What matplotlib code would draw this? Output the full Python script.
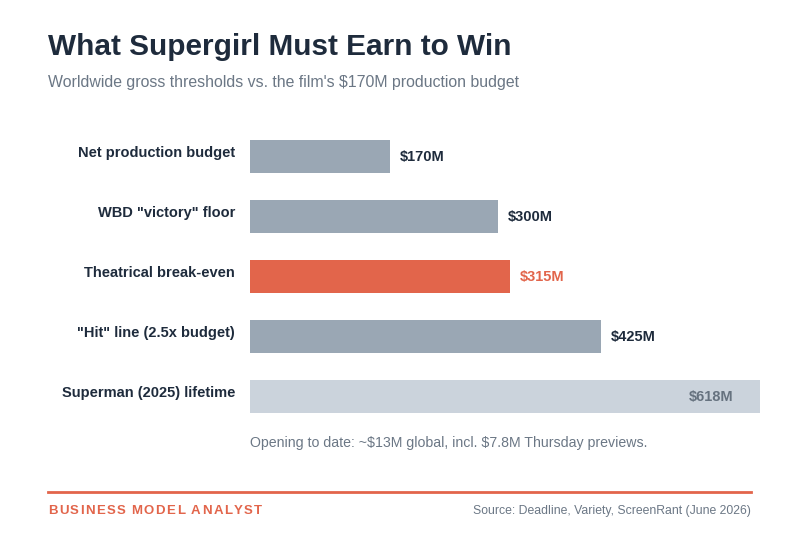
import matplotlib
matplotlib.use("Agg")
from matplotlib import pyplot as plt

plt.rcParams['font.family'] = ['Liberation Sans', 'DejaVu Sans']
plt.rcParams['text.parse_math'] = False

categories = ["Net production budget", 'WBD "victory" floor', "Theatrical break-even",
              '"Hit" line (2.5x budget)', "Superman (2025) lifetime"]
values = [170, 300, 315, 425, 618]
value_labels = ["$170M", "$300M", "$315M", "$425M", "$618M"]

navy = "#1e2b3c"
grey_bar = "#9aa7b4"
orange = "#e2654b"
light_bar = "#cbd3dc"
muted = "#6b7785"

bar_colors = [grey_bar, grey_bar, orange, grey_bar, light_bar]
label_colors = [navy, navy, orange, navy, "#66727f"]

W, H = 800, 540
fig = plt.figure(figsize=(W / 100, H / 100), dpi=100)
fig.patch.set_facecolor("white")


def fx(px):
    return px / W


def fy(py):
    return 1 - py / H


ax = fig.add_axes([fx(250), fy(426.7), fx(510), 300 / H])
ypos = list(range(len(categories)))
ax.barh(ypos, values, height=0.555, color=bar_colors)
ax.set_xlim(0, 618)
ax.set_ylim(4.5, -0.5)
ax.axis("off")

for i, (v, lab) in enumerate(zip(values, value_labels)):
    if i == len(values) - 1:
        ax.text(v - 32, i, lab, ha="right", va="center", fontsize=10.5,
                fontweight="bold", color=label_colors[i])
    else:
        ax.text(v + 12, i, lab, ha="left", va="center", fontsize=10.5,
                fontweight="bold", color=label_colors[i])
    ax.text(-18, i - 0.07, categories[i], ha="right", va="center", fontsize=10.5,
            fontweight="bold", color=navy)

fig.text(fx(48), fy(47), "What Supergirl Must Earn to Win", ha="left", va="center",
         fontsize=21.4, fontweight="bold", color=navy)
fig.text(fx(48), fy(82), "Worldwide gross thresholds vs. the film's $170M production budget",
         ha="left", va="center", fontsize=11.4, color=muted)

fig.text(fx(250), fy(443), "Opening to date: ~$13M global, incl. $7.8M Thursday previews.",
         ha="left", va="center", fontsize=10.2, color=muted)

fig.add_artist(plt.Line2D([fx(48), fx(751)], [fy(491.5), fy(491.5)], color=orange,
                          linewidth=2, transform=fig.transFigure))

# letter-spaced brand line
renderer = fig.canvas.get_renderer()
brand = "BUSINESS MODEL ANALYST"
x = 48
for ch in brand:
    t = fig.text(fx(x), fy(511), ch, ha="left", va="center", fontsize=9.5,
                 fontweight="bold", color=orange)
    w = t.get_window_extent(renderer).width if ch != " " else 3.5
    x += w + 1.4

fig.text(fx(751), fy(511), "Source: Deadline, Variety, ScreenRant (June 2026)",
         ha="right", va="center", fontsize=8.8, color=muted)

fig.savefig("out.png", dpi=100, facecolor="white")
